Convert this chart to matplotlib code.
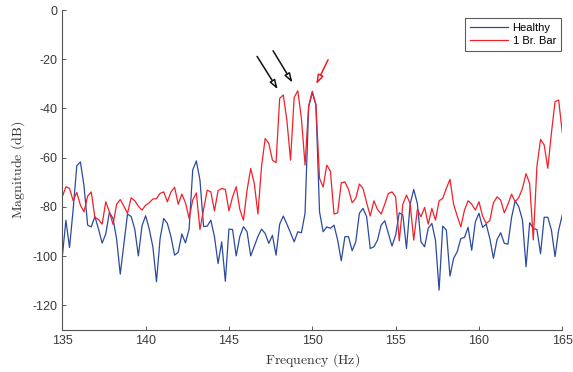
import numpy as np
import matplotlib
matplotlib.use("Agg")
import matplotlib.pyplot as plt

# spectrum values (dB), 135-165 Hz
healthy_db = [
    -100.3, -85.4, -96.5, -81.0, -63.3, -61.7, -71.5, -87.4, -88.1, -83.9,
    -89.0, -94.7, -91.0, -82.2, -84.7, -93.1, -107.3, -95.1, -82.9, -83.9,
    -89.0, -99.9, -87.7, -83.6, -89.0, -96.2, -110.4, -92.8, -84.7, -86.7,
    -92.1, -99.6,
    -98.4, -91.0, -94.6, -89.0, -65.0, -61.3, -69.1, -88.0, -87.8, -85.4,
    -92.1, -103.0, -94.2, -110.2, -89.0, -89.2, -99.9, -92.0, -88.0, -90.1,
    -99.9, -96.0, -92.0, -89.0, -90.8, -94.8, -91.5, -99.6, -87.0, -83.7,
    -87.0, -90.5, -94.2,
    -90.1, -90.5, -82.6, -39.3, -33.6, -38.6, -82.0, -90.1, -88.1, -88.7,
    -87.4, -93.5, -101.9, -92.1, -92.1, -97.8, -94.2, -82.6, -80.6, -84.0,
    -96.9, -96.2, -93.5, -87.4, -85.6, -90.8, -95.9, -91.5, -82.4, -83.3,
    -96.9, -78.9, -72.9, -78.6, -94.2,
    -96.2, -88.7, -86.7, -93.5, -113.8, -87.8, -89.4, -108.1, -100.9, -98.2,
    -92.8, -92.4, -88.3, -97.6, -86.1, -82.6, -88.3, -87.0, -92.8, -100.9,
    -93.2, -90.5, -94.8, -95.1, -84.3, -77.5, -80.0, -85.3, -104.3, -86.4,
    -88.7, -89.2, -99.0, -84.2, -84.2, -89.4, -100.2, -89.4, -83.3,
]
broken_bar_db = [
    -75.9, -71.8, -72.5, -77.5, -74.1, -79.3, -82.0, -75.6, -73.9, -84.3,
    -85.1, -87.0, -77.9, -82.0, -87.1, -78.9, -77.0, -79.7, -82.6, -76.3,
    -77.5, -79.7, -81.3, -79.3, -78.3, -76.8, -76.6, -74.5, -73.9, -77.9,
    -73.9, -72.0,
    -78.9, -74.8, -78.3, -84.7, -77.2, -74.3, -89.2, -81.0, -73.2, -73.9,
    -81.6, -73.4, -72.5, -72.9, -81.6, -75.9, -71.8, -81.0, -85.4, -73.2,
    -64.4, -70.5, -82.9, -63.4, -52.2, -54.2, -61.0, -62.0, -35.9, -34.5,
    -45.0, -61.0, -35.5,
    -32.8, -44.0, -63.0, -39.0, -33.0, -38.3, -68.4, -71.9, -63.0, -65.5,
    -82.9, -82.4, -70.2, -69.8, -72.9, -78.3, -76.5, -70.7, -72.5, -78.3,
    -83.7, -77.5, -81.0, -82.9, -78.9, -74.5, -73.9, -75.9, -93.8, -78.9,
    -75.2, -78.6, -93.5, -81.0, -84.0,
    -80.2, -87.0, -80.6, -85.4, -77.5, -76.5, -72.5, -68.8, -78.9, -83.7,
    -88.1, -81.3, -77.5, -78.9, -81.3, -77.9, -83.7, -86.7, -85.6, -78.3,
    -75.9, -77.2, -82.4, -78.9, -74.8, -77.9, -76.2, -72.5, -66.5, -70.5,
    -93.4, -63.5, -52.6, -54.8, -64.3, -50.0, -37.2, -36.6, -49.8,
]
freq_hz = np.linspace(135, 165, len(healthy_db))

x_ticks = [135, 140, 145, 150, 155, 160, 165]
y_ticks = [0, -20, -40, -60, -80, -100, -120]
series_labels = ["Healthy", "1 Br. Bar"]

plt.rcParams['mathtext.fontset'] = 'cm'
plt.rcParams['axes.unicode_minus'] = False
plt.rcParams['font.family'] = ['Liberation Sans', 'DejaVu Sans']

fig = plt.figure(figsize=(5.73, 3.72), dpi=100)
ax = fig.add_axes([0.1087, 0.1129, 0.8726, 0.8602])

ax.plot(freq_hz, healthy_db, color='#2b4aa0', linewidth=0.9, label=series_labels[0])
ax.plot(freq_hz, broken_bar_db, color='#f2202a', linewidth=0.9, label=series_labels[1])

# arrows pointing at the sideband peaks
head = '-|>,head_length=0.55,head_width=0.18'
arrow_black = dict(arrowstyle=head, fc='white', ec='#111111', lw=1.1)
arrow_red = dict(arrowstyle=head, fc='white', ec='#ee1c24', lw=1.1)
ax.annotate('', xy=(148.02, -33.2), xytext=(146.6, -17.9), arrowprops=arrow_black)
ax.annotate('', xy=(148.9, -30.5), xytext=(147.56, -15.6), arrowprops=arrow_black)
ax.annotate('', xy=(150.16, -31.2), xytext=(151.02, -19.2), arrowprops=arrow_red)

ax.set_xlim(135, 165)
ax.set_ylim(-130, 0)
ax.set_xticks(x_ticks)
ax.set_yticks(y_ticks)
ax.tick_params(direction='in', length=3, width=0.7, colors='#555555',
               labelcolor='#3a3a3a', labelsize=9)
for side in ['top', 'right']:
    ax.spines[side].set_visible(False)
for side in ['left', 'bottom']:
    ax.spines[side].set_color('#555555')
    ax.spines[side].set_linewidth(0.8)

ax.set_xlabel(r'$\mathrm{Frequency\ (Hz)}$', fontsize=10, color='#333333', labelpad=3)
ax.set_ylabel(r'$\mathrm{Magnitude\ (dB)}$', fontsize=10, color='#333333', labelpad=4)

leg = ax.legend(loc='upper right', bbox_to_anchor=(0.979, 0.952),
                bbox_transform=fig.transFigure, fontsize=8, frameon=True,
                fancybox=False, borderaxespad=0, handlelength=3.4,
                handletextpad=0.4, borderpad=0.45, labelspacing=0.25)
leg.get_frame().set_edgecolor('#333333')
leg.get_frame().set_linewidth(0.8)

fig.savefig('out.png', dpi=100)
